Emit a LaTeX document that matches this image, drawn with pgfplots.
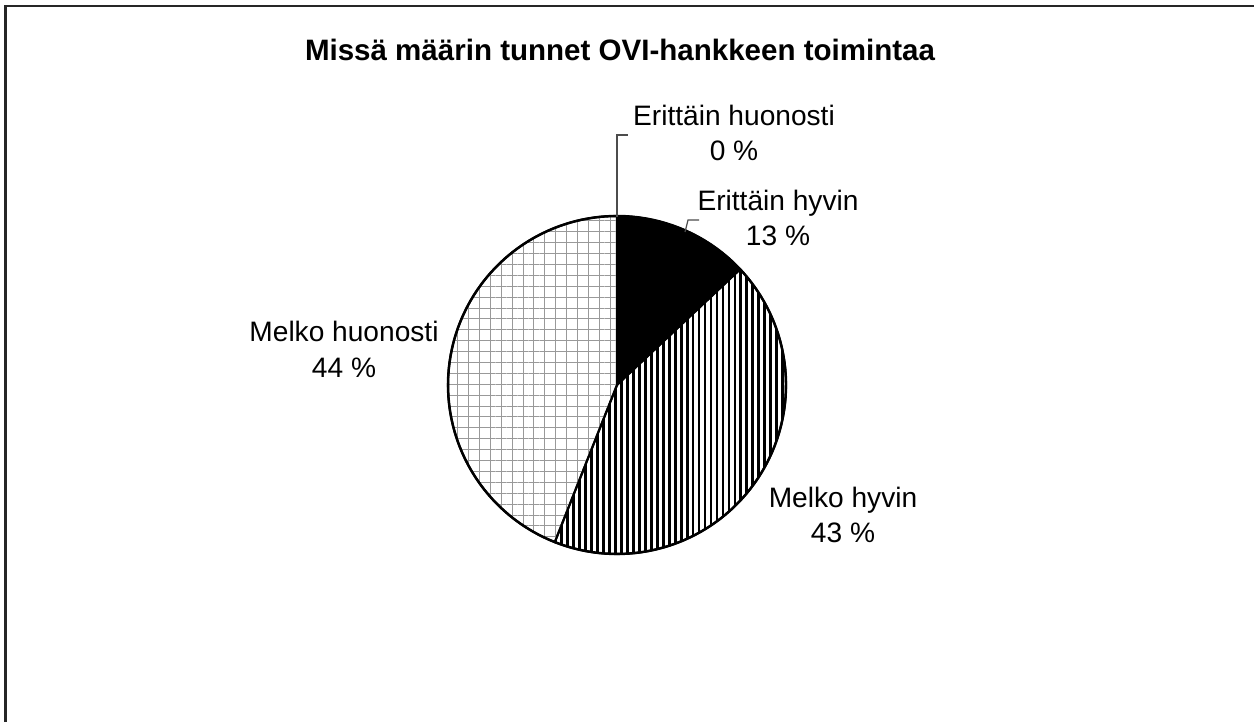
\documentclass[border=0pt]{standalone}
\usepackage{fontspec}
\setmainfont{Liberation Sans}
\usepackage{pgfplots}
\pgfplotsset{compat=1.18}
\usetikzlibrary{patterns.meta}
\tikzset{lbl/.style={font=\fontsize{8}{10.2}\selectfont, align=center, inner sep=0pt}}
\begin{document}
\begin{tikzpicture}
\begin{axis}[
  scale only axis, width=125.4mm, height=72.2mm,
  xmin=0, xmax=1254, ymin=0, ymax=722,
  hide axis, clip=true,
]
\path (axis cs:0,0) rectangle (axis cs:1254,722);
% border (left and top visible)
\addplot[draw=black!85, line width=0.6pt, no marks] coordinates {(5.5,0) (5.5,716) (1254,716)};
% pie slices: percentages 13, 43, 44, 0 ; angle = 3.6 * cumulative percent, clockwise from top
\addplot[draw=black, fill=black, line width=0.5pt, domain=0:13, samples=40, variable=\t, no marks]
  ({617+169*sin(3.6*\t)},{337+169*cos(3.6*\t)}) -- (axis cs:617,337) -- cycle;
\addplot[draw=black, pattern={Lines[angle=90,distance=1.7pt,line width=0.8pt]}, pattern color=black, line width=0.6pt, domain=13:56, samples=80, variable=\t, no marks]
  ({617+169*sin(3.6*\t)},{337+169*cos(3.6*\t)}) -- (axis cs:617,337) -- cycle;
\addplot[draw=black, pattern={Hatch[angle=0,distance=3.1pt,line width=0.25pt]}, pattern color=black!40, line width=0.6pt, domain=56:100, samples=80, variable=\t, no marks]
  ({617+169*sin(3.6*\t)},{337+169*cos(3.6*\t)}) -- (axis cs:617,337) -- cycle;
\addplot[draw=black, line width=0.7pt, domain=0:100, samples=150, variable=\t, no marks]
  ({617+169*sin(3.6*\t)},{337+169*cos(3.6*\t)});
% leader lines
\addplot[draw=black!70, line width=0.35pt, no marks] coordinates {(617,505) (617,587) (628,587)};
\addplot[draw=black!70, line width=0.35pt, no marks] coordinates {(685,490) (688,502) (699,502)};
% labels
\node[lbl, font=\fontsize{8.4}{10}\selectfont\bfseries] at (axis cs:620,672) {Missä määrin tunnet OVI-hankkeen toimintaa};
\node[lbl] at (axis cs:734,589) {Erittäin huonosti\\0 \%};
\node[lbl] at (axis cs:778,504) {Erittäin hyvin\\13 \%};
\node[lbl] at (axis cs:344,373) {Melko huonosti\\44 \%};
\node[lbl] at (axis cs:843,207) {Melko hyvin\\43 \%};
\end{axis}
\end{tikzpicture}
\end{document}
